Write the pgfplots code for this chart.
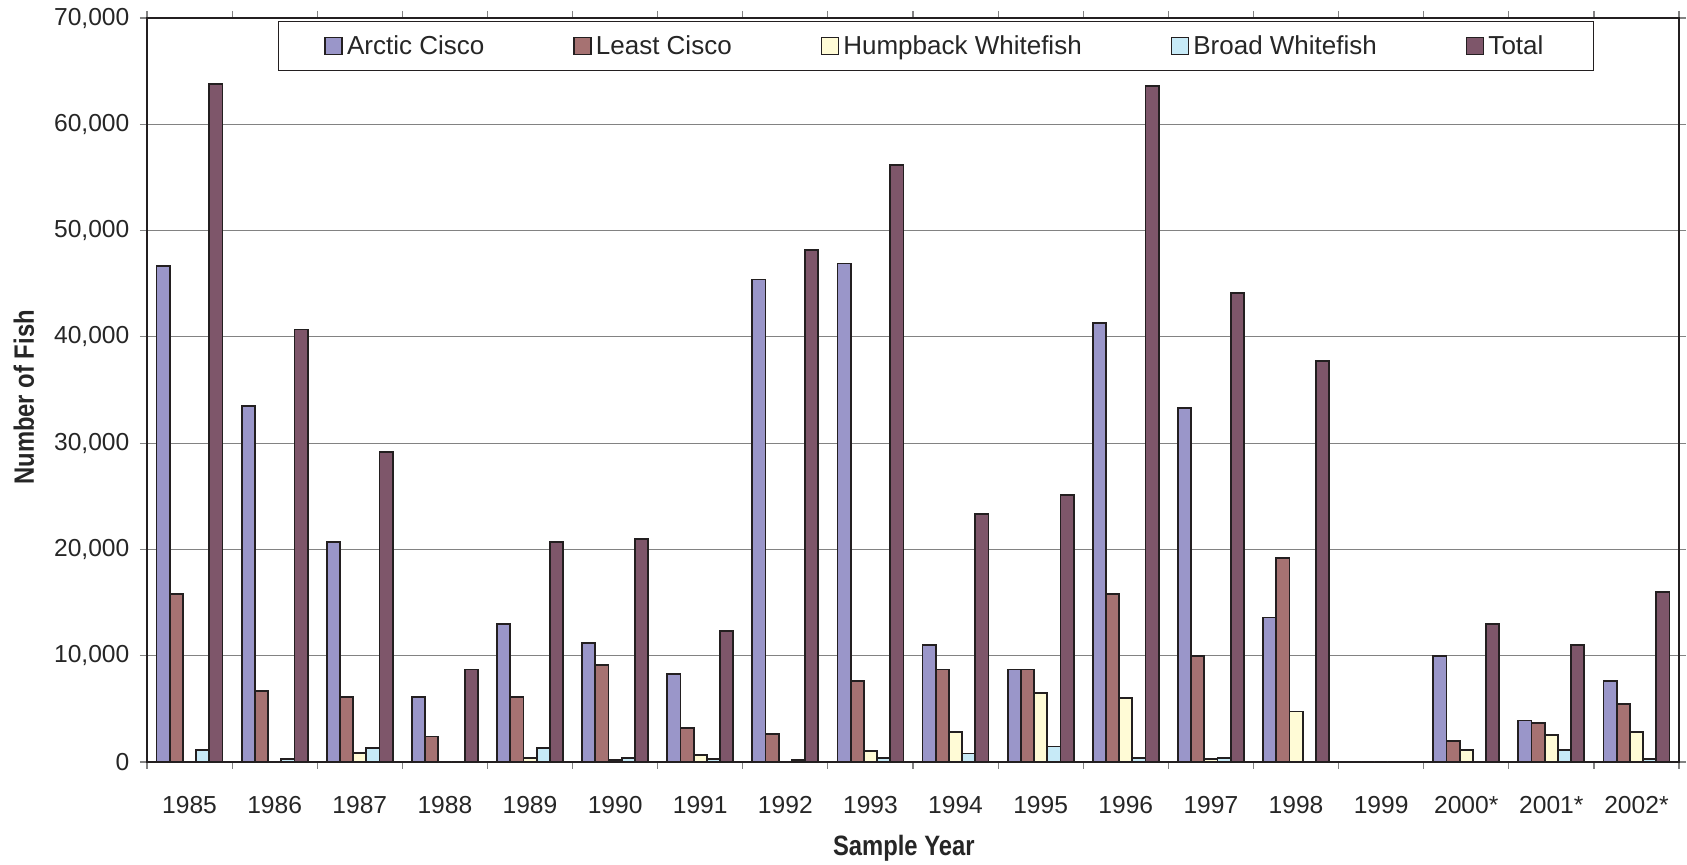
\documentclass[border=0pt]{standalone}
\usepackage{pgfplots}
\usepackage{pgfplotstable}
\usepackage{fontspec}
\pgfplotsset{compat=1.18}
\setmainfont{Liberation Sans}
\newfontfamily\labelfont[FakeStretch=0.85]{Liberation Sans}
\definecolor{arctic}{RGB}{154,150,201}
\definecolor{least}{RGB}{166,114,114}
\definecolor{hump}{RGB}{255,251,214}
\definecolor{broad}{RGB}{199,234,247}
\definecolor{total}{RGB}{126,86,106}
\definecolor{edge}{RGB}{35,31,32}
\definecolor{gridc}{RGB}{130,130,130}

\pgfplotstableread{
x arc lea hum bro tot
0 46700 15800 0 1100 63800
1 33500 6700 0 250 40700
2 20700 6100 850 1300 29200
3 6100 2400 0 0 8700
4 13000 6100 400 1300 20700
5 11200 9100 200 400 21000
6 8300 3200 650 250 12300
7 45400 2600 0 200 48200
8 46900 7600 1050 350 56200
9 11000 8700 2800 800 23300
10 8700 8700 6500 1450 25100
11 41300 15800 6050 350 63600
12 33300 10000 300 350 44100
13 13600 19200 4750 0 37700
14 0 0 0 0 0
15 10000 1950 1100 0 13000
16 3900 3650 2550 1100 11000
17 7600 5450 2800 250 16000
}\fishdata

\pgfplotsset{
  sq/.style={legend image code/.code={\draw[##1,line width=0.8pt] (0pt,-4.25pt) rectangle (8.5pt,4.25pt);}},
}

\begin{document}
\begin{tikzpicture}
\path[use as bounding box] (0,0) rectangle (843.5pt,432.5pt);
\begin{axis}[
  at={(73.5pt,51.5pt)}, anchor=south west,
  scale only axis, width=766pt, height=372pt,
  xmin=-0.5, xmax=17.5, ymin=0, ymax=70000,
  ybar=0pt, bar width=6.6pt,
  xtick={-0.5,0.5,...,17.5},
  x tick label as interval,
  xticklabels={1985,1986,1987,1988,1989,1990,1991,1992,1993,1994,1995,1996,1997,1998,1999,2000*,2001*,2002*},
  ytick={0,10000,...,70000},
  scaled y ticks=false,
  /pgf/number format/.cd, fixed, 1000 sep={,}, assume math mode=true,
  /pgfplots/.cd,
  tick align=outside,
  major tick length=3.5pt,
  tick style={draw=gridc, line width=0.6pt},
  ymajorgrids,
  grid style={draw=gridc, line width=0.6pt},
  axis line style={draw=edge, line width=1pt},
  ticklabel style={font=\fontsize{12.3}{14}\selectfont, text=black!85},
  xticklabel shift=10pt,
  yticklabel shift=1.8pt,
  every axis y label/.style={at={(axis description cs:-0.0803,0.49)}, rotate=90, anchor=center},
  every axis x label/.style={at={(axis description cs:0.494,-0.1160)}, anchor=center},
  ylabel={\labelfont\bfseries Number of Fish},
  xlabel={\labelfont\bfseries Sample Year},
  label style={font=\fontsize{14}{16}\selectfont, text=black!85},
  legend columns=5,
  legend style={
    at={(axis description cs:0.0855,0.996)}, anchor=north west,
    draw=edge, line width=0.5pt, fill=white,
    inner xsep=23pt, inner ysep=4.9pt,
    font=\fontsize{13}{15}\selectfont,
    text=black!85,
    /tikz/every even column/.append style={column sep=42.5pt},
  },
  legend cell align=left,
  every axis plot/.append style={draw=edge, line width=0.9pt},
]
\addplot[fill=arctic, sq] table[x=x, y=arc] {\fishdata};
\addplot[fill=least, sq] table[x=x, y=lea] {\fishdata};
\addplot[fill=hump, sq] table[x=x, y=hum] {\fishdata};
\addplot[fill=broad, sq] table[x=x, y=bro] {\fishdata};
\addplot[fill=total, sq] table[x=x, y=tot] {\fishdata};
\legend{Arctic Cisco, Least Cisco, Humpback Whitefish, Broad Whitefish, Total}
\end{axis}
\end{tikzpicture}
\end{document}
